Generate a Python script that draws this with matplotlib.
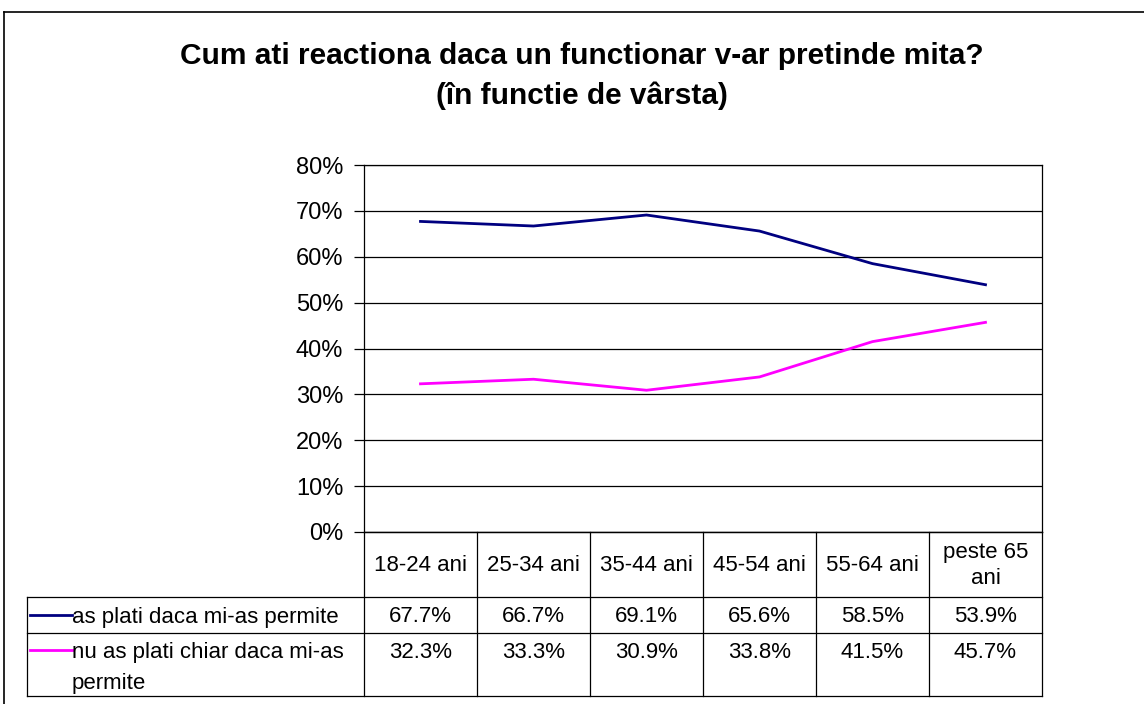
import matplotlib.pyplot as plt
from matplotlib.lines import Line2D

plt.rcParams['font.family'] = ['Liberation Sans', 'DejaVu Sans']

# date
categorii = ['18-24 ani', '25-34 ani', '35-44 ani', '45-54 ani', '55-64 ani', 'peste 65\nani']
serii = ['as plati daca mi-as permite', 'nu as plati chiar daca mi-as\npermite']
plati = [67.7, 66.7, 69.1, 65.6, 58.5, 53.9]
nu_plati = [32.3, 33.3, 30.9, 33.8, 41.5, 45.7]
culori = ['#000080', '#FF00FF']
titlu = 'Cum ati reactiona daca un functionar v-ar pretinde mita?\n(în functie de vârsta)'

W, H = 1144, 704
fig = plt.figure(figsize=(W / 100, H / 100), dpi=100)

def px(x0, y0, x1, y1):
    # dreptunghi in pixeli -> coordonate figura
    return [x0 / W, 1 - y1 / H, (x1 - x0) / W, (y1 - y0) / H]

# chenar exterior
fig.add_artist(Line2D([4 / W, 4 / W], [0, 1 - 12 / H], color='black', lw=1.2))
fig.add_artist(Line2D([4 / W, 1], [1 - 12 / H, 1 - 12 / H], color='black', lw=1.2))

fig.text(582 / W, 1 - 76 / H, titlu, ha='center', va='center', fontsize=21.5,
         fontweight='bold', linespacing=1.5)

# grafic
xL, xR, yT, yB = 364, 1042, 165, 532
ax = fig.add_axes(px(xL, yT, xR, yB))
x = list(range(len(categorii)))
ax.plot(x, plati, color=culori[0], lw=2)
ax.plot(x, nu_plati, color=culori[1], lw=2)
ax.set_xlim(-0.5, len(categorii) - 0.5)
ax.set_ylim(0, 80)
ax.set_yticks(range(0, 81, 10))
ax.set_yticklabels([f'{v}%' for v in range(0, 81, 10)])
ax.set_xticks([])
ax.grid(axis='y', color='black', lw=0.9)
ax.set_axisbelow(True)
ax.tick_params(axis='y', length=7, width=0.9, labelsize=17, pad=8, direction='out')
for s in ax.spines.values():
    s.set_color('black')
    s.set_linewidth(0.9)

# tabel de date
tx0, ty0, ty1 = 27, 532, 696
rand1, rand2 = 597, 633
tab = fig.add_axes(px(tx0, ty0, xR, ty1))
tab.set_xlim(tx0, xR)
tab.set_ylim(ty1, ty0)
tab.axis('off')
cw = (xR - xL) / len(categorii)
lk = dict(color='black', lw=0.9, clip_on=False)
for i in range(len(categorii) + 1):
    tab.plot([xL + i * cw] * 2, [ty0, ty1], **lk)
tab.plot([xL, xR], [ty0, ty0], **lk)
tab.plot([tx0, xR], [rand1, rand1], **lk)
tab.plot([tx0, xR], [rand2, rand2], **lk)
tab.plot([tx0, xR], [ty1, ty1], **lk)
tab.plot([tx0, tx0], [rand1, ty1], **lk)

for i, c in enumerate(categorii):
    tab.text(xL + (i + 0.5) * cw, (ty0 + rand1) / 2 + 1, c, ha='center', va='center',
             fontsize=16, linespacing=1.35)
    tab.text(xL + (i + 0.5) * cw, (rand1 + rand2) / 2 + 1, f'{plati[i]:.1f}%',
             ha='center', va='center', fontsize=16)
    tab.text(xL + (i + 0.5) * cw, rand2 + 20, f'{nu_plati[i]:.1f}%',
             ha='center', va='center', fontsize=16)

# legenda in tabel
ys = [(rand1 + rand2) / 2, rand2 + 17]
for s, c, y in zip(serii, culori, ys):
    tab.plot([30, 72], [y, y], color=c, lw=2, clip_on=False)
    tab.text(72, y - 8, s, ha='left', va='top', fontsize=16, linespacing=1.65)

fig.savefig('out.png', dpi=100)
